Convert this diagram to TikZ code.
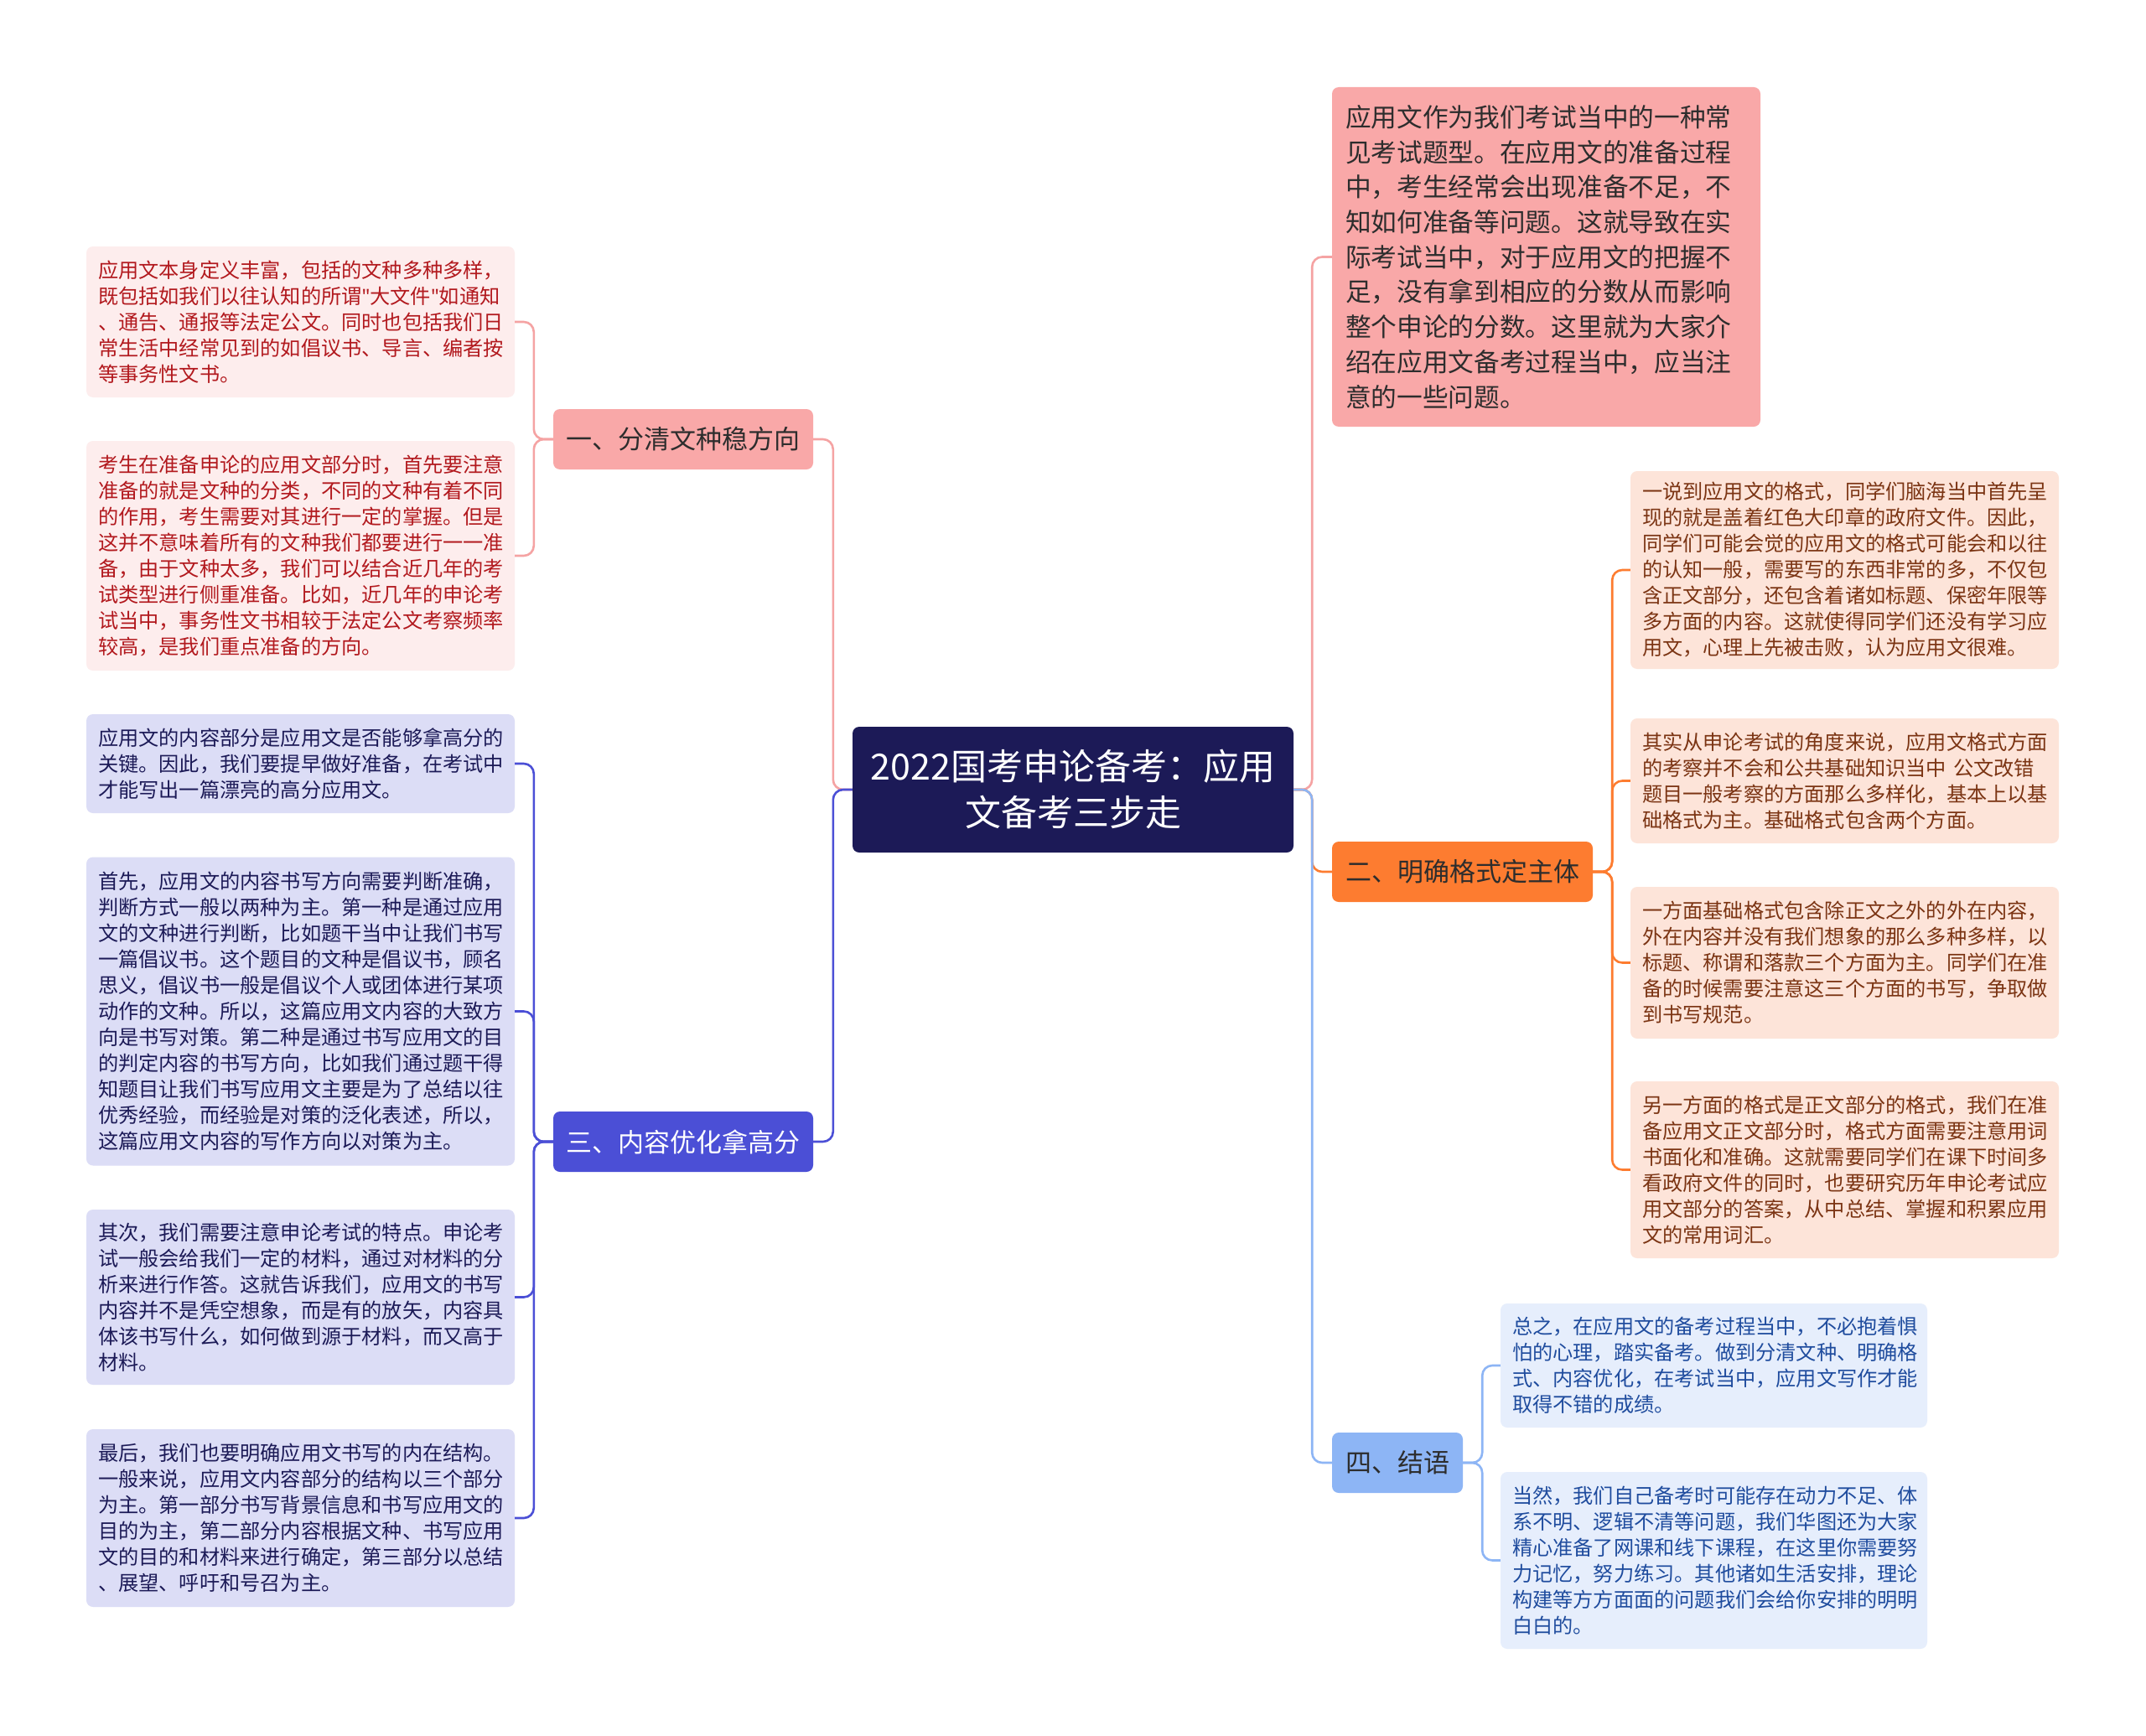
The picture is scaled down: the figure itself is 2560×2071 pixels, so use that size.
\documentclass[tikz,border=0pt]{standalone}
\usepackage{fontspec}
\setmainfont{Noto Sans CJK SC}
\newfontfamily\latinfont{Noto Sans}
\newcommand{\sq}{{\latinfont\symbol{"22}}}
\definecolor{rootc}{HTML}{1C1A57}
\definecolor{pinkc}{HTML}{F9A8A8}
\definecolor{pinkline}{HTML}{F5A3A3}
\definecolor{pinkleaf}{HTML}{FDEDED}
\definecolor{pinktext}{HTML}{B2191E}
\definecolor{violetc}{HTML}{4B4FD6}
\definecolor{violetleaf}{HTML}{DCDDF6}
\definecolor{violettext}{HTML}{1C1A57}
\definecolor{orangec}{HTML}{FD7C30}
\definecolor{orangeleaf}{HTML}{FDE4D9}
\definecolor{orangetext}{HTML}{7B3413}
\definecolor{bluec}{HTML}{8DB5F5}
\definecolor{blueleaf}{HTML}{E6EEFC}
\definecolor{bluetext}{HTML}{1F4C9E}
\definecolor{darktext}{HTML}{2D2D2D}
\tikzset{
  box/.style={rounded corners=8pt, inner ysep=0pt, align=left},
  leaf/.style={box, inner xsep=14pt, text width=483pt, minimum width=511pt,
    font=\fontsize{24.2}{31}\selectfont},
  pinkleafbox/.style={leaf, fill=pinkleaf, text=pinktext},
  violetleafbox/.style={leaf, fill=violetleaf, text=violettext},
  orangeleafbox/.style={leaf, fill=orangeleaf, text=orangetext},
  blueleafbox/.style={leaf, fill=blueleaf, text=bluetext},
  branch/.style={box, inner xsep=0pt, minimum height=72pt, align=center,
    font=\fontsize{31}{40}\selectfont},
  conn/.style={draw=#1, line width=2.6pt, rounded corners=12pt}
}
\begin{document}
\begin{tikzpicture}[x=1pt, y=-1pt]
\useasboundingbox[fill=white] (0,0) rectangle (2560,2071);

% root
\node[box, fill=rootc, text=white, align=center, minimum width=526pt, minimum height=150pt,
  font=\fontsize{43}{55}\selectfont] (root) at (1280,942)
  {2022国考申论备考：应用\\文备考三步走};

% branches
\node[branch, fill=pinkc, text=darktext, minimum width=310pt] (b1) at (815,524) {一、分清文种稳方向};
\node[branch, fill=violetc, text=white, minimum width=310pt] (b3) at (815,1362) {三、内容优化拿高分};
\node[branch, fill=orangec, text=darktext, minimum width=311pt] (b2) at (1744.5,1040) {二、明确格式定主体};
\node[branch, fill=bluec, text=darktext, minimum width=156pt] (b4) at (1667,1745) {四、结语};

% top-right node
\node[box, fill=pinkc, text=darktext, inner xsep=16pt, text width=479pt, minimum width=511pt,
  minimum height=405pt, font=\fontsize{30.7}{41.7}\selectfont] (tr) at (1844.5,306.5)
{应用文作为我们考试当中的一种常\\
见考试题型。在应用文的准备过程\\
中，考生经常会出现准备不足，不\\
知如何准备等问题。这就导致在实\\
际考试当中，对于应用文的把握不\\
足，没有拿到相应的分数从而影响\\
整个申论的分数。这里就为大家介\\
绍在应用文备考过程当中，应当注\\
意的一些问题。};

% left pink leaves
\node[pinkleafbox, minimum height=180pt] (l1) at (358.5,384)
{应用文本身定义丰富，包括的文种多种多样，\\
既包括如我们以往认知的所谓\sq 大文件\sq 如通知\\
、通告、通报等法定公文。同时也包括我们日\\
常生活中经常见到的如倡议书、导言、编者按\\
等事务性文书。};
\node[pinkleafbox, minimum height=274pt] (l2) at (358.5,663)
{考生在准备申论的应用文部分时，首先要注意\\
准备的就是文种的分类，不同的文种有着不同\\
的作用，考生需要对其进行一定的掌握。但是\\
这并不意味着所有的文种我们都要进行一一准\\
备，由于文种太多，我们可以结合近几年的考\\
试类型进行侧重准备。比如，近几年的申论考\\
试当中，事务性文书相较于法定公文考察频率\\
较高，是我们重点准备的方向。};

% left violet leaves
\node[violetleafbox, minimum height=118pt] (v1) at (358.5,911)
{应用文的内容部分是应用文是否能够拿高分的\\
关键。因此，我们要提早做好准备，在考试中\\
才能写出一篇漂亮的高分应用文。};
\node[violetleafbox, minimum height=368pt] (v2) at (358.5,1206.5)
{首先，应用文的内容书写方向需要判断准确，\\
判断方式一般以两种为主。第一种是通过应用\\
文的文种进行判断，比如题干当中让我们书写\\
一篇倡议书。这个题目的文种是倡议书，顾名\\
思义，倡议书一般是倡议个人或团体进行某项\\
动作的文种。所以，这篇应用文内容的大致方\\
向是书写对策。第二种是通过书写应用文的目\\
的判定内容的书写方向，比如我们通过题干得\\
知题目让我们书写应用文主要是为了总结以往\\
优秀经验，而经验是对策的泛化表述，所以，\\
这篇应用文内容的写作方向以对策为主。};
\node[violetleafbox, minimum height=209pt] (v3) at (358.5,1547.5)
{其次，我们需要注意申论考试的特点。申论考\\
试一般会给我们一定的材料，通过对材料的分\\
析来进行作答。这就告诉我们，应用文的书写\\
内容并不是凭空想象，而是有的放矢，内容具\\
体该书写什么，如何做到源于材料，而又高于\\
材料。};
\node[violetleafbox, minimum height=212pt] (v4) at (358.5,1811)
{最后，我们也要明确应用文书写的内在结构。\\
一般来说，应用文内容部分的结构以三个部分\\
为主。第一部分书写背景信息和书写应用文的\\
目的为主，第二部分内容根据文种、书写应用\\
文的目的和材料来进行确定，第三部分以总结\\
、展望、呼吁和号召为主。};

% right orange leaves
\node[orangeleafbox, minimum height=236pt] (o1) at (2200.5,680)
{一说到应用文的格式，同学们脑海当中首先呈\\
现的就是盖着红色大印章的政府文件。因此，\\
同学们可能会觉的应用文的格式可能会和以往\\
的认知一般，需要写的东西非常的多，不仅包\\
含正文部分，还包含着诸如标题、保密年限等\\
多方面的内容。这就使得同学们还没有学习应\\
用文，心理上先被击败，认为应用文很难。};
\node[orangeleafbox, minimum height=149pt] (o2) at (2200.5,931.5)
{其实从申论考试的角度来说，应用文格式方面\\
的考察并不会和公共基础知识当中 公文改错\\
题目一般考察的方面那么多样化，基本上以基\\
础格式为主。基础格式包含两个方面。};
\node[orangeleafbox, minimum height=181pt] (o3) at (2200.5,1148.5)
{一方面基础格式包含除正文之外的外在内容，\\
外在内容并没有我们想象的那么多种多样，以\\
标题、称谓和落款三个方面为主。同学们在准\\
备的时候需要注意这三个方面的书写，争取做\\
到书写规范。};
\node[orangeleafbox, minimum height=211pt] (o4) at (2200.5,1395.5)
{另一方面的格式是正文部分的格式，我们在准\\
备应用文正文部分时，格式方面需要注意用词\\
书面化和准确。这就需要同学们在课下时间多\\
看政府文件的同时，也要研究历年申论考试应\\
用文部分的答案，从中总结、掌握和积累应用\\
文的常用词汇。};

% right blue leaves
\node[blueleafbox, minimum width=509pt, text width=481pt, minimum height=148pt] (r1) at (2044.5,1629)
{总之，在应用文的备考过程当中，不必抱着惧\\
怕的心理，踏实备考。做到分清文种、明确格\\
式、内容优化，在考试当中，应用文写作才能\\
取得不错的成绩。};
\node[blueleafbox, minimum width=509pt, text width=481pt, minimum height=211pt] (r2) at (2044.5,1861.5)
{当然，我们自己备考时可能存在动力不足、体\\
系不明、逻辑不清等问题，我们华图还为大家\\
精心准备了网课和线下课程，在这里你需要努\\
力记忆，努力练习。其他诸如生活安排，理论\\
构建等方方面面的问题我们会给你安排的明明\\
白白的。};

% root connectors
\draw[conn=pinkline] (root.west) -- ++(-23,0) |- (b1.east);
\draw[conn=violetc] (root.west) -- ++(-23,0) |- (b3.east);
\draw[conn=pinkline] (root.east) -- ++(22,0) |- (tr.west);
\draw[conn=orangec] (root.east) -- ++(22,0) |- (b2.west);
\draw[conn=bluec] (root.east) -- ++(22,0) |- (b4.west);

% branch connectors
\draw[conn=pinkline] (b1.west) -- ++(-23,0) |- (l1.east);
\draw[conn=pinkline] (b1.west) -- ++(-23,0) |- (l2.east);
\draw[conn=violetc] (b3.west) -- ++(-23,0) |- (v1.east);
\draw[conn=violetc] (b3.west) -- ++(-23,0) |- (v2.east);
\draw[conn=violetc] (b3.west) -- ++(-23,0) |- (v3.east);
\draw[conn=violetc] (b3.west) -- ++(-23,0) |- (v4.east);
\draw[conn=orangec] (b2.east) -- ++(23,0) |- (o1.west);
\draw[conn=orangec] (b2.east) -- ++(23,0) |- (o2.west);
\draw[conn=orangec] (b2.east) -- ++(23,0) |- (o3.west);
\draw[conn=orangec] (b2.east) -- ++(23,0) |- (o4.west);
\draw[conn=bluec] (b4.east) -- ++(23,0) |- (r1.west);
\draw[conn=bluec] (b4.east) -- ++(23,0) |- (r2.west);
\end{tikzpicture}
\end{document}
